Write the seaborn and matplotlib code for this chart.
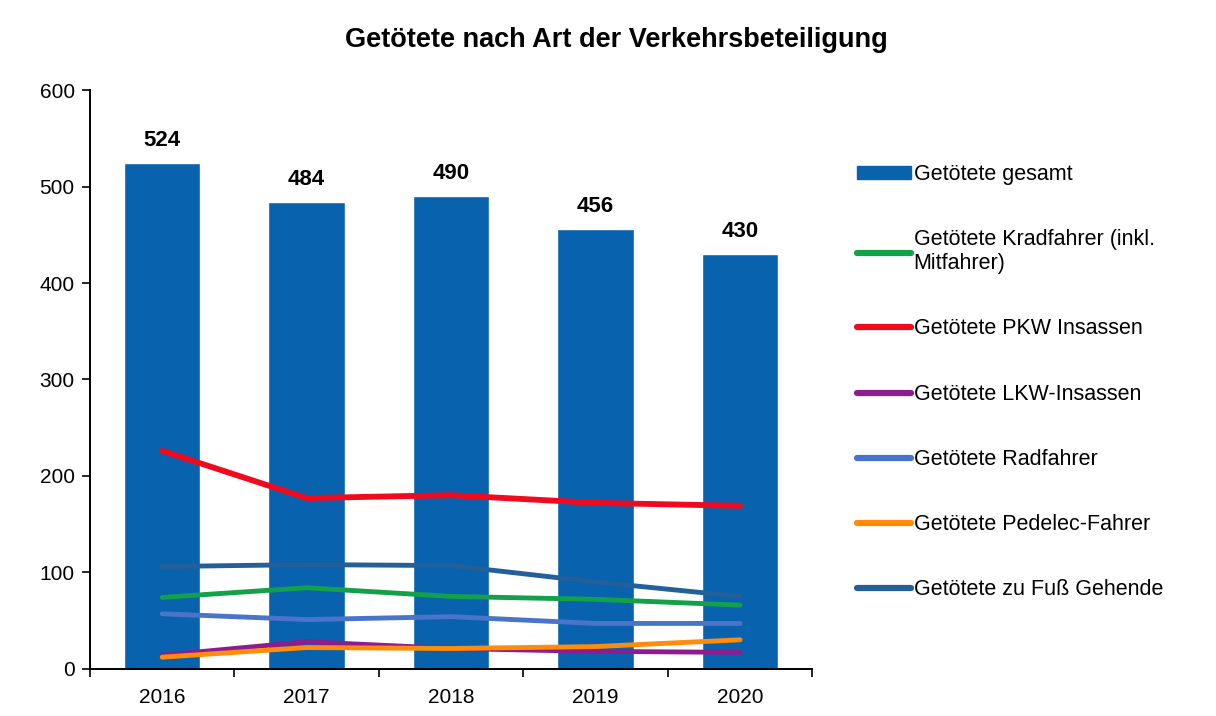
import pandas as pd
import seaborn as sns
import matplotlib.pyplot as plt
from matplotlib.lines import Line2D
from matplotlib.patches import Patch

# Werte
jahre = ["2016", "2017", "2018", "2019", "2020"]
gesamt = [524, 484, 490, 456, 430]
krad = [74, 84, 75, 72, 66]
pkw = [226, 177, 180, 172, 169]
lkw = [14, 28, 21, 18, 17]
rad = [57, 51, 54, 47, 47]
pedelec = [12, 22, 21, 23, 30]
fuss = [106, 108, 107, 90, 75]

namen = ["Getötete Kradfahrer (inkl.\nMitfahrer)", "Getötete PKW Insassen",
         "Getötete LKW-Insassen", "Getötete Radfahrer",
         "Getötete Pedelec-Fahrer", "Getötete zu Fuß Gehende"]
farben = ["#12a049", "#f00a1e", "#8e1c8e", "#4a74c9", "#ff8c0a", "#235f98"]
bar_farbe = "#0862ad"

sns.set_theme(style="white")
plt.rcParams['font.family'] = ['Liberation Sans', 'DejaVu Sans']
plt.rcParams['text.color'] = 'black'
plt.rcParams['xtick.color'] = 'black'
plt.rcParams['ytick.color'] = 'black'

df_bar = pd.DataFrame({"Jahr": jahre, "Anzahl": gesamt})
df_lines = pd.DataFrame({
    "Jahr": jahre * 6,
    "Anzahl": krad + pkw + lkw + rad + pedelec + fuss,
    "Art": [n for n in namen for _ in jahre],
})

fig = plt.figure(figsize=(12.16, 7.16), dpi=100)
ax = fig.add_axes([0.074, 0.066, 0.594, 0.808])

sns.barplot(data=df_bar, x="Jahr", y="Anzahl", color=bar_farbe, width=0.53,
            saturation=1, ax=ax)
ax.bar_label(ax.containers[0], padding=9, fontsize=16, fontweight="bold",
             color="black")

for name, farbe in zip(namen, farben):
    sub = df_lines[df_lines["Art"] == name]
    lw = 4.2 if "PKW" in name else 3.5
    sns.pointplot(data=sub, x="Jahr", y="Anzahl", color=farbe, markers="",
                  linewidth=lw, errorbar=None, ax=ax)

ax.set_xlim(-0.5, 4.5)
ax.set_ylim(0, 600)
ax.set_yticks(range(0, 601, 100))
ax.set_xlabel("")
ax.set_ylabel("")
ax.tick_params(axis="both", labelsize=15, colors="black")
ax.tick_params(axis="y", left=True, length=6, width=1.2, direction="out", pad=5)
ax.tick_params(axis="x", which="major", bottom=False, pad=8)
ax.set_xticks([i - 0.5 for i in range(6)], minor=True)
ax.tick_params(axis="x", which="minor", bottom=True, length=6, width=1.2,
               direction="out")
sns.despine(ax=ax)
for s in ["left", "bottom"]:
    ax.spines[s].set_color("black")
    ax.spines[s].set_linewidth(1.4)

fig.text(0.507, 0.944, "Getötete nach Art der Verkehrsbeteiligung",
         ha="center", va="center", fontsize=19.5, fontweight="bold")

handles = [Patch(facecolor=bar_farbe, edgecolor=bar_farbe)]
handles += [Line2D([0], [0], color=f, lw=4.5) for f in farben]
labels = ["Getötete gesamt"] + namen
fig.legend(handles, labels, loc="upper left", bbox_to_anchor=(0.705, 0.771),
           frameon=False, fontsize=15.5, handlelength=2.5, handletextpad=0.12,
           labelspacing=2.05, borderpad=0, borderaxespad=0, handleheight=0.55)

fig.savefig("out.png", dpi=100, facecolor="white")
